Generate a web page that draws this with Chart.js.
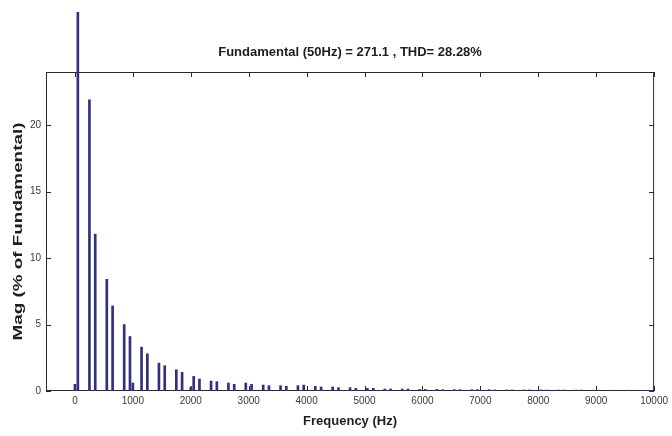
<!DOCTYPE html>
<html>
<head>
<meta charset="utf-8">
<script src="https://cdn.jsdelivr.net/npm/chart.js@4.4.1/dist/chart.umd.min.js"></script>
<style>
  html, body { margin: 0; padding: 0; background: #fff; }
  #wrap { width: 672px; height: 436px; }
</style>
</head>
<body>
<div id="wrap"><canvas id="fft" width="672" height="436"></canvas></div>
<script>
// harmonic frequencies (Hz) and magnitudes (% of fundamental)
const freqs = [
  0, 50, 250, 350, 550, 650, 850, 950, 1000, 1150, 1250, 1450, 1550, 1750, 1850,
  2000, 2050, 2150, 2350, 2450, 2650, 2750, 2950, 3050, 3250, 3350, 3550, 3650,
  3850, 3950, 4150, 4250, 4450, 4550, 4750, 4850, 5050, 5150, 5350, 5450, 5650,
  5750, 5950, 6050, 6250, 6350, 6550, 6650, 6850, 6950, 7150, 7250, 7450, 7550,
  7750, 7850, 8050, 8150, 8350, 8450, 8650, 8750, 8950, 9050, 9250, 9350, 9550,
  9650, 9850, 9950
];
const mags = [
  0.5, 100, 21.9, 11.8, 8.4, 6.4, 5.0, 4.1, 0.6, 3.3, 2.8, 2.1, 1.9, 1.6, 1.4,
  0.3, 1.1, 0.9, 0.75, 0.7, 0.6, 0.5, 0.6, 0.5, 0.45, 0.4, 0.4, 0.35,
  0.4, 0.45, 0.35, 0.3, 0.3, 0.25, 0.25, 0.2, 0.2, 0.2, 0.15, 0.15, 0.15,
  0.15, 0.12, 0.12, 0.12, 0.1, 0.1, 0.1, 0.1, 0.1, 0.1, 0.08, 0.08, 0.08,
  0.08, 0.08, 0.08, 0.07, 0.07, 0.07, 0.07, 0.07, 0.06, 0.06, 0.06, 0.06, 0.06,
  0.06, 0.05, 0.05
];
const xTicks = [0, 1000, 2000, 3000, 4000, 5000, 6000, 7000, 8000, 9000, 10000];
const yTicks = [0, 5, 10, 15, 20];
const titleText = "Fundamental (50Hz) = 271.1 , THD= 28.28%";
const xTitle = "Frequency (Hz)";
const yTitle = "Mag (% of Fundamental)";

// box, inward ticks and titles in the MATLAB style
const matlabFrame = {
  id: "matlabFrame",
  beforeDatasetsDraw(chart) {
    const { ctx, chartArea: a, scales: { x, y } } = chart;
    ctx.save();
    ctx.strokeStyle = "#2a2a2a";
    ctx.lineWidth = 1;
    ctx.strokeRect(a.left + 0.5, a.top + 0.5, a.right - a.left - 1, a.bottom - a.top - 1);
    ctx.beginPath();
    xTicks.forEach(v => {
      const px = Math.round(x.getPixelForValue(v)) + 0.5;
      ctx.moveTo(px, a.bottom); ctx.lineTo(px, a.bottom - 5);
      ctx.moveTo(px, a.top); ctx.lineTo(px, a.top + 5);
    });
    yTicks.forEach(v => {
      const py = Math.round(y.getPixelForValue(v)) + 0.5;
      ctx.moveTo(a.left, py); ctx.lineTo(a.left + 5, py);
      ctx.moveTo(a.right, py); ctx.lineTo(a.right - 5, py);
    });
    ctx.stroke();
    ctx.restore();
  },
  afterDraw(chart) {
    const { ctx, chartArea: a } = chart;
    const cx = (a.left + a.right) / 2;
    ctx.save();
    ctx.fillStyle = "#1e1e1e";
    ctx.font = "bold 13px 'Liberation Sans', Arial, sans-serif";
    ctx.textAlign = "center";
    ctx.textBaseline = "middle";
    ctx.fillText(titleText, cx, 52);
    ctx.fillText(xTitle, cx, 421);
    // y title, stretched along its length like the source figure
    ctx.translate(18, (a.top + a.bottom) / 2);
    ctx.rotate(-Math.PI / 2);
    ctx.scale(1.45, 1);
    ctx.fillText(yTitle, 0, 0);
    ctx.restore();
  }
};

new Chart(document.getElementById("fft"), {
  type: "bar",
  data: {
    datasets: [{
      data: freqs.map((f, i) => ({ x: f, y: mags[i] })),
      backgroundColor: "#30307c",
      borderWidth: 0,
      barThickness: 2,
      clip: { left: 0, top: 60, right: 0, bottom: 0 }
    }]
  },
  options: {
    responsive: false,
    animation: false,
    layout: { padding: { top: 72, right: 15, left: 0, bottom: 0 } },
    plugins: { legend: { display: false }, tooltip: { enabled: false } },
    scales: {
      x: {
        type: "linear",
        offset: false,
        min: -500,
        max: 10000,
        grid: { display: false, drawTicks: false, offset: false },
        border: { display: false },
        afterBuildTicks: s => { s.ticks = xTicks.map(v => ({ value: v })); },
        afterFit: s => { s.height = 45; },
        ticks: {
          padding: 4,
          maxRotation: 0,
          autoSkip: false,
          color: "#3a3a3a",
          font: { family: "'Liberation Sans', Arial, sans-serif", size: 10 },
          callback: v => String(v)
        }
      },
      y: {
        min: 0,
        max: 24,
        grid: { display: false, drawTicks: false },
        border: { display: false },
        afterBuildTicks: s => { s.ticks = yTicks.map(v => ({ value: v })); },
        afterFit: s => { s.width = 46; },
        ticks: {
          padding: 5,
          color: "#3a3a3a",
          font: { family: "'Liberation Sans', Arial, sans-serif", size: 10 }
        }
      }
    }
  },
  plugins: [matlabFrame]
});
</script>
</body>
</html>
